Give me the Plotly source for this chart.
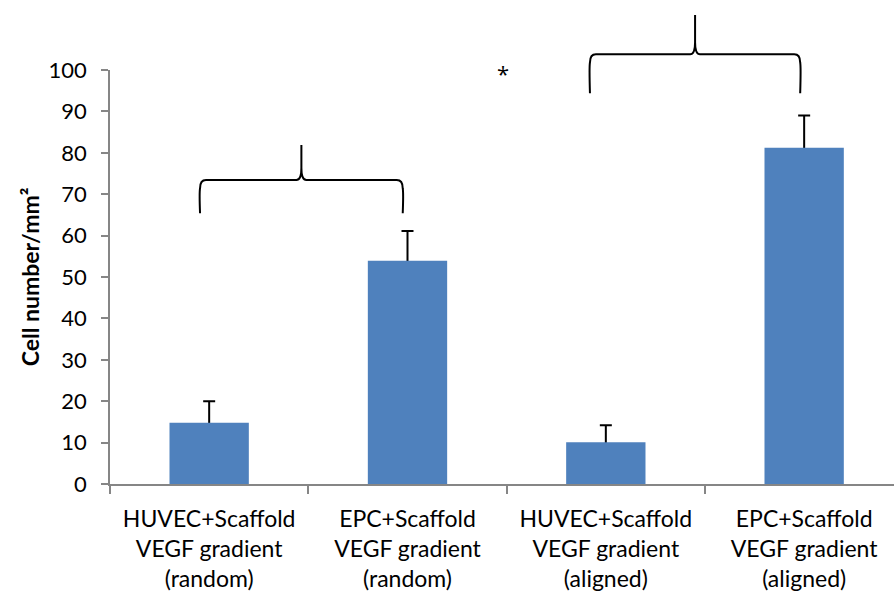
import plotly.graph_objects as go

# Cell counts per group (mean and upper SD)
groups = [
    "HUVEC+Scaffold<br>VEGF gradient<br>(random)",
    "EPC+Scaffold<br>VEGF gradient<br>(random)",
    "HUVEC+Scaffold<br>VEGF gradient<br>(aligned)",
    "EPC+Scaffold<br>VEGF gradient<br>(aligned)",
]
cell_density = [14.8, 53.9, 10.1, 81.2]
cell_density_sd = [5.2, 7.2, 4.1, 7.8]
y_ticks = [0, 10, 20, 30, 40, 50, 60, 70, 80, 90, 100]

# Comparison brackets: (left x, right x, foot y, shoulder y, tip y) in data units
brackets = [
    (-0.046, 0.976, 65.4, 73.4, 81.9),
    (1.92, 2.98, 94.4, 103.8, 113.3),
]
star_pos = (1.482, 99.2)

X_RANGE = (-0.5, 3.453)
Y_RANGE = (0, 100)

BAR_BLUE = "#4F81BD"
AXIS_GREY = "#868686"
FONT = "Lato"

x_idx = list(range(len(groups)))

fig = go.Figure()
# Error whiskers (symmetric); the lower half is hidden behind the bars drawn next
fig.add_trace(
    go.Bar(
        x=x_idx,
        y=cell_density,
        width=0.4,
        marker=dict(color="rgba(0,0,0,0)", line=dict(width=0)),
        error_y=dict(
            type="data",
            array=cell_density_sd,
            color="black",
            thickness=2,
            width=6,
        ),
        showlegend=False,
        hoverinfo="skip",
    )
)
fig.add_trace(
    go.Bar(
        x=x_idx,
        y=cell_density,
        width=0.4,
        marker=dict(color=BAR_BLUE, line=dict(width=0)),
        showlegend=False,
    )
)


def to_paper(x, y):
    px = (x - X_RANGE[0]) / (X_RANGE[1] - X_RANGE[0])
    py = (y - Y_RANGE[0]) / (Y_RANGE[1] - Y_RANGE[0])
    return f"{px:.5f},{py:.5f}"


def brace_path(xl, xr, yb, ym, yt):
    xc = (xl + xr) / 2
    rx, ry = 0.03, 2.0      # rounded shoulders
    dx, dy = 0.025, 2.9     # cusp at the centre
    pts = [
        "M" + to_paper(xl, yb),
        "Q" + to_paper(xl - 0.004, ym - ry * 1.5) + " " + to_paper(xl, ym - ry),
        "Q" + to_paper(xl, ym) + " " + to_paper(xl + rx, ym),
        "L" + to_paper(xc - dx, ym),
        "Q" + to_paper(xc, ym) + " " + to_paper(xc, ym + dy),
        "L" + to_paper(xc, yt),
        "L" + to_paper(xc, ym + dy),
        "Q" + to_paper(xc, ym) + " " + to_paper(xc + dx, ym),
        "L" + to_paper(xr - rx, ym),
        "Q" + to_paper(xr, ym) + " " + to_paper(xr, ym - ry),
        "Q" + to_paper(xr + 0.004, ym - ry * 1.5) + " " + to_paper(xr, yb),
    ]
    return " ".join(pts)


for b in brackets:
    fig.add_shape(
        type="path",
        xref="paper",
        yref="paper",
        path=brace_path(*b),
        line=dict(color="black", width=2),
        fillcolor="rgba(0,0,0,0)",
        layer="above",
    )

fig.add_annotation(
    x=star_pos[0],
    y=star_pos[1],
    xref="x",
    yref="y",
    text="*",
    showarrow=False,
    font=dict(family="Open Sans", size=22, color="black"),
)

fig.update_layout(
    width=894,
    height=598,
    margin=dict(l=110, r=0, t=70, b=114),
    paper_bgcolor="white",
    plot_bgcolor="white",
    font=dict(family=FONT, color="black"),
    barmode="overlay",
)

fig.update_xaxes(
    range=list(X_RANGE),
    tickmode="array",
    tickvals=x_idx,
    ticktext=groups,
    ticks="",
    showgrid=False,
    zeroline=False,
    showline=True,
    linecolor=AXIS_GREY,
    linewidth=1.5,
    tickfont=dict(family=FONT, size=23, color="black"),
    ticklabelstandoff=14,
    minor=dict(
        tickmode="array",
        tickvals=[-0.5, 0.5, 1.5, 2.5, 3.5],
        ticks="outside",
        ticklen=8,
        tickwidth=1.5,
        tickcolor=AXIS_GREY,
        showgrid=False,
    ),
)

fig.update_yaxes(
    range=list(Y_RANGE),
    tickmode="array",
    tickvals=y_ticks,
    ticks="outside",
    ticklen=7,
    tickwidth=1.5,
    tickcolor=AXIS_GREY,
    showgrid=False,
    zeroline=False,
    showline=True,
    linecolor=AXIS_GREY,
    linewidth=1.5,
    tickfont=dict(family=FONT, size=22, color="black"),
    ticklabelstandoff=10,
    title=dict(
        text="<b>Cell number/mm²</b>",
        font=dict(family=FONT, size=23, color="black"),
        standoff=3,
    ),
)

fig.write_html("out.html")
